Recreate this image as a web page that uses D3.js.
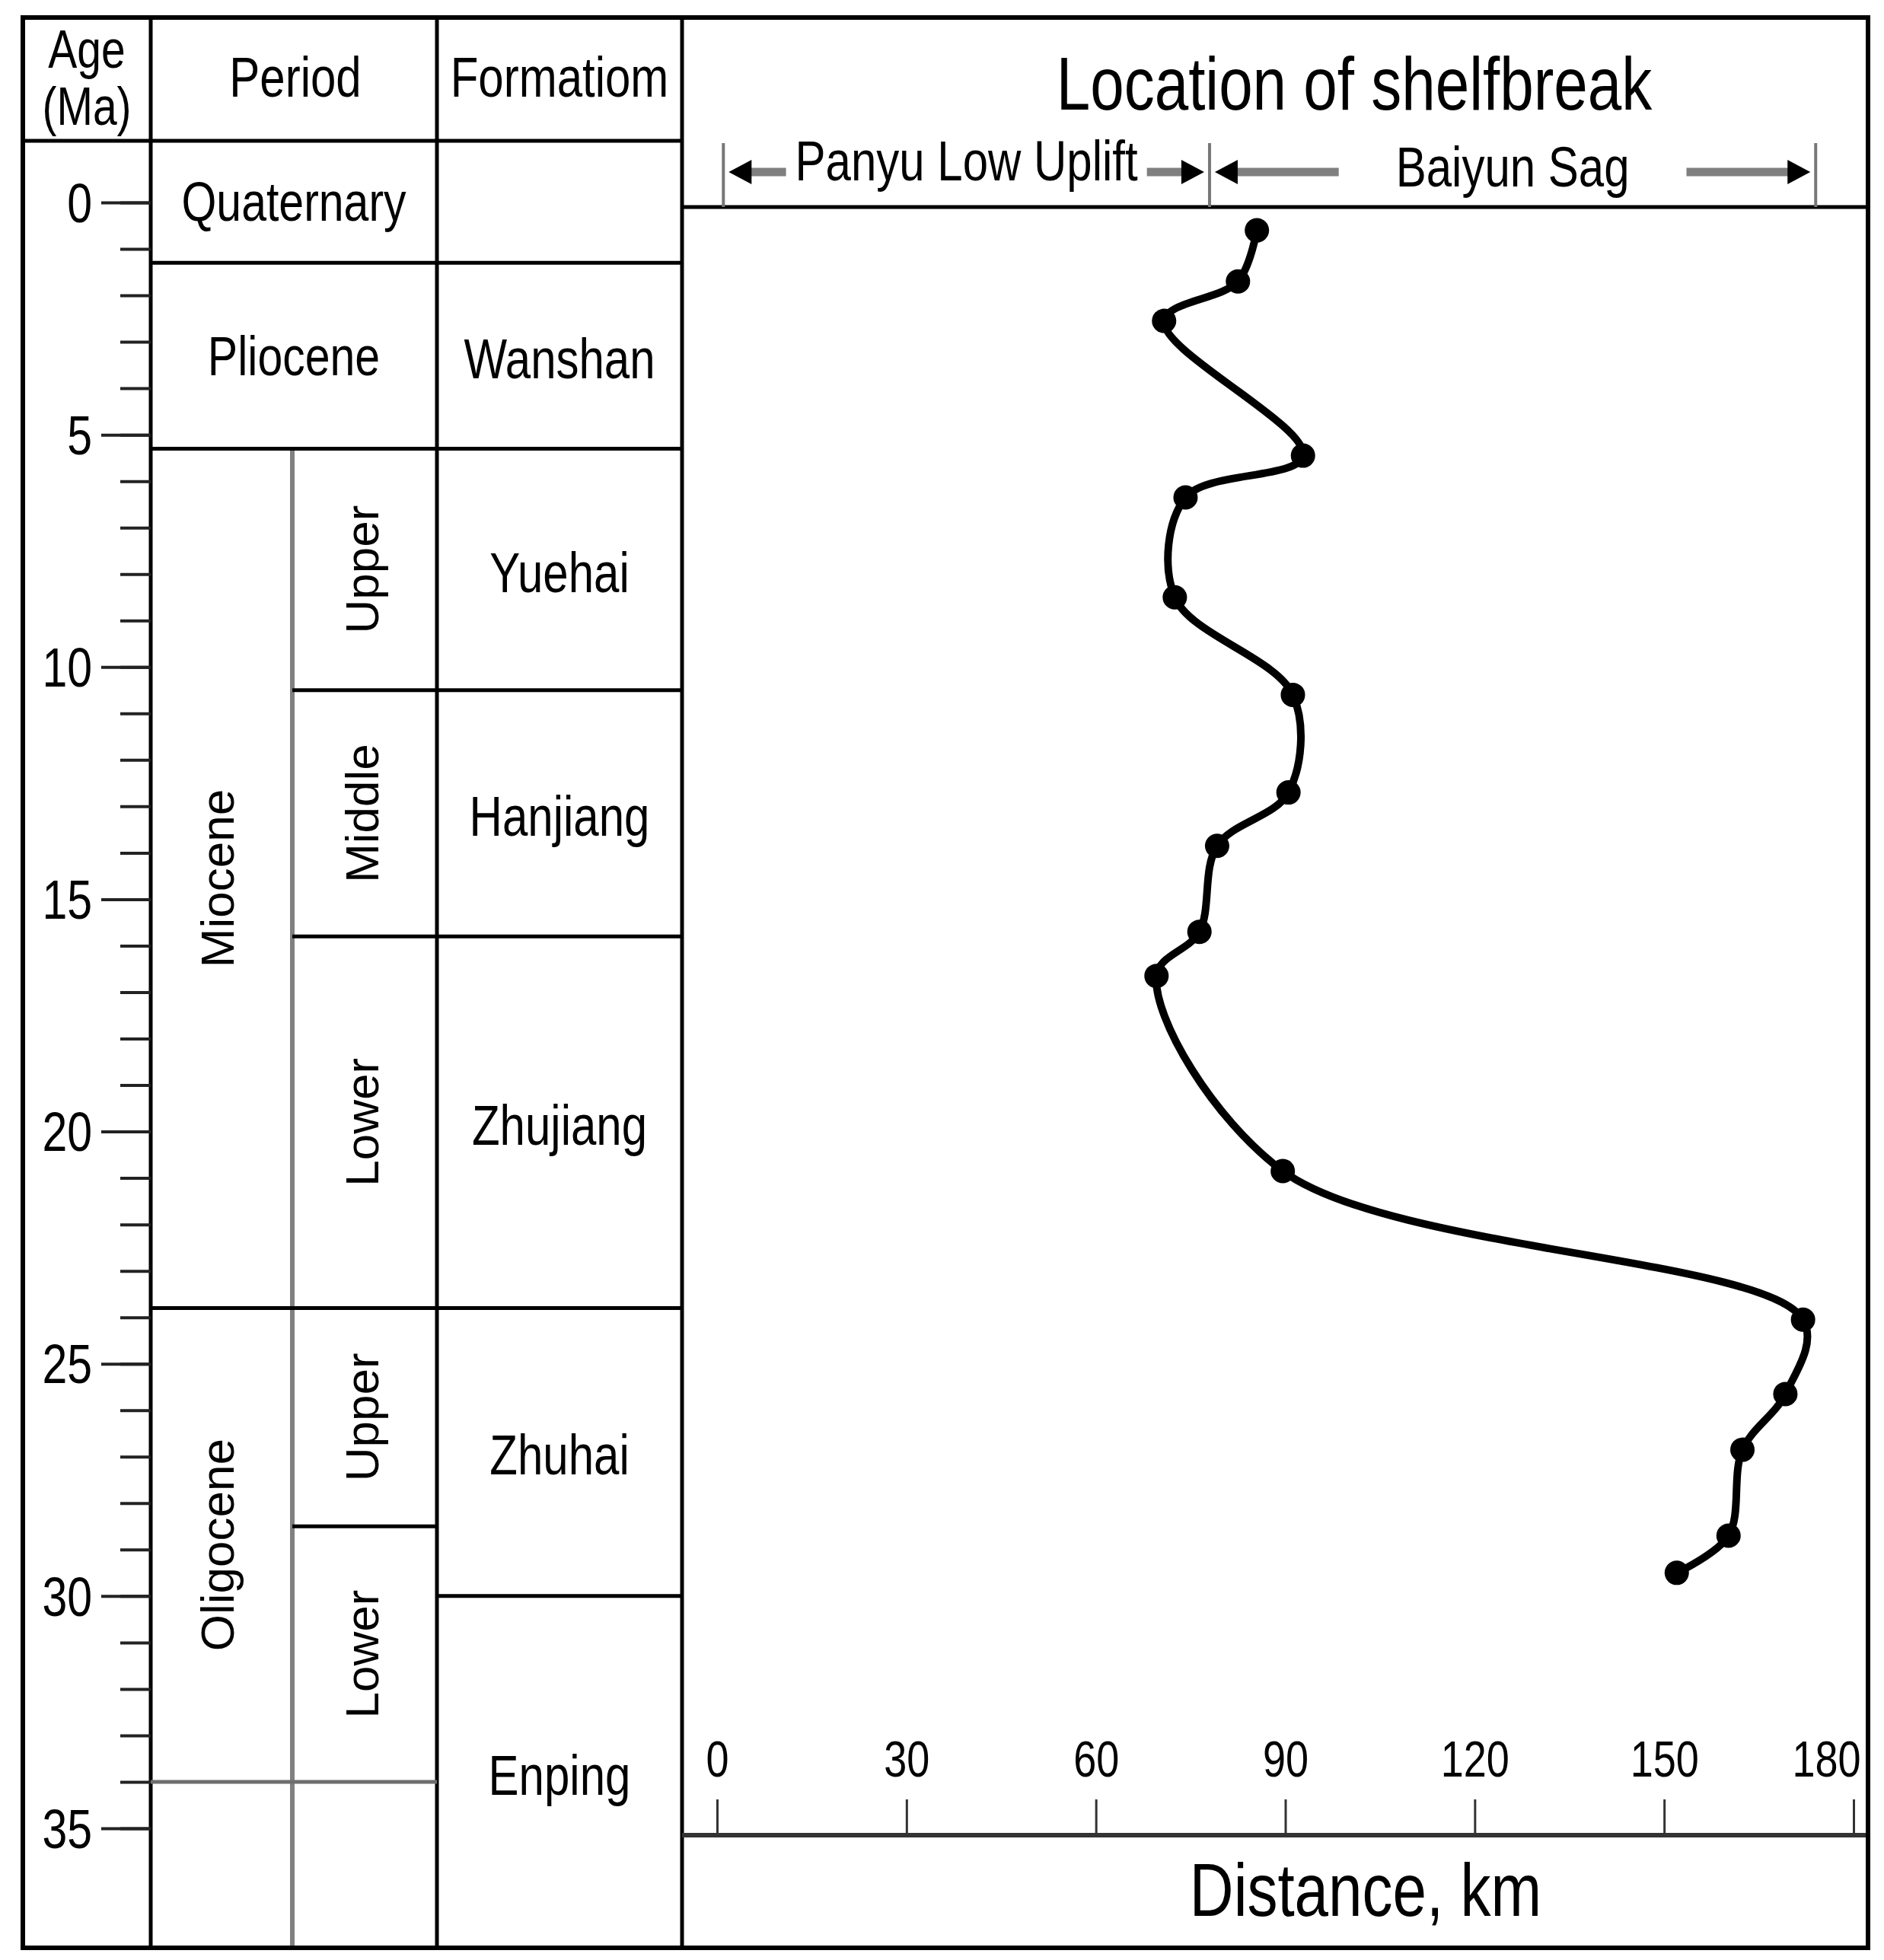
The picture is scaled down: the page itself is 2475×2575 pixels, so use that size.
<!DOCTYPE html>
<html>
<head>
<meta charset="utf-8">
<script src="https://cdn.jsdelivr.net/npm/d3@7"></script>
<style>
body { margin: 0; background: #fff; }
text { fill: #000; font-family: "Liberation Sans", Arial, sans-serif; }
</style>
</head>
<body>
<svg id="chart"></svg>
<script>
// shelfbreak location through time (age in Ma, distance in km)
var shelfAge  = [0.6, 1.7, 2.55, 5.45, 6.35, 8.5, 10.6, 12.7, 13.85, 15.7, 16.65, 20.85, 24.05, 25.65, 26.85, 28.7, 29.5];
var shelfDist = [85.5, 82.5, 70.8, 92.8, 74.2, 72.5, 91.2, 90.5, 79.2, 76.4, 69.6, 89.6, 172.0, 169.2, 162.4, 160.2, 152.0];

// stratigraphic column (null = open end of the table)
var epochs     = ['Quaternary', 'Pliocene', 'Miocene', 'Oligocene', ''];
var epochTop   = [null, 1.3, 5.3, 23.8, 34.0];
var epochBase  = [1.3, 5.3, 23.8, 34.0, null];
var series     = ['Upper', 'Middle', 'Lower', 'Upper', 'Lower', ''];
var seriesTop  = [5.3, 10.5, 15.8, 23.8, 28.5, 34.0];
var seriesBase = [10.5, 15.8, 23.8, 28.5, 34.0, null];
var formations    = ['', 'Wanshan', 'Yuehai', 'Hanjiang', 'Zhujiang', 'Zhuhai', 'Enping'];
var formationTop  = [null, 1.3, 5.3, 10.5, 15.8, 23.8, 30.0];
var formationBase = [1.3, 5.3, 10.5, 15.8, 23.8, 30.0, null];

var ageTicks   = d3.range(0, 36);
var ageLabels  = [0, 5, 10, 15, 20, 25, 30, 35];
var distTicks  = [0, 30, 60, 90, 120, 150, 180];

var regions     = ['Panyu Low Uplift', 'Baiyun Sag'];
var regionEdges = [1, 78, 174];

// layout
var W = 2475, H = 2575;
var frameL = 30, frameT = 23, frameR = 2454, frameB = 2559;
var colAge = 198, colSub = 384, colForm = 574, colChart = 896;
var headY = 185, chartHeadY = 272, axisY = 2411;
var SY = 1.22; // vertical stretch of the horizontal lettering

var svg = d3.select('#chart').attr('width', W).attr('height', H);

var y = d3.scaleLinear().domain([0, 35]).range([266, 2402]);
var x = d3.scaleLinear().domain([0, 180]).range([942, 2435]);

function yy(v, fallback) { return v === null ? fallback : y(v); }

function label(txt, px, py, size, anchor) {
    return svg.append('text')
        .attr('transform', `translate(${px},${py}) scale(1,${SY})`)
        .attr('text-anchor', anchor || 'middle')
        .attr('dominant-baseline', 'central')
        .style('font-size', size + 'px')
        .text(txt);
}

function vlabel(txt, px, py) {
    svg.append('text')
        .attr('transform', `translate(${px},${py}) rotate(-90)`)
        .attr('text-anchor', 'middle')
        .attr('dominant-baseline', 'central')
        .style('font-size', '62px')
        .text(txt);
}

function hline(x1, x2, py, color, w) {
    svg.append('line').attr('x1', x1).attr('x2', x2).attr('y1', py).attr('y2', py)
        .attr('stroke', color || '#000').attr('stroke-width', w || 5);
}

function vline(px, y1, y2, color, w) {
    svg.append('line').attr('x1', px).attr('x2', px).attr('y1', y1).attr('y2', y2)
        .attr('stroke', color || '#000').attr('stroke-width', w || 5);
}

// ---- table frame ----
vline(colSub, y(5.3), frameB, '#808080', 6);
hline(frameL, colChart, headY);
hline(colChart, frameR, chartHeadY);
vline(colAge, frameT, frameB);
vline(colForm, frameT, frameB);
vline(colChart, frameT, frameB);

// header texts
label('Age', 114, 64, 57);
label('(Ma)', 114, 139, 57);
label('Period', 388, 101, 60);
label('Formatiom', 735, 101, 60);

// epochs
epochs.forEach(function(name, i) {
    var t = yy(epochTop[i], headY), b = yy(epochBase[i], frameB);
    var split = seriesTop.indexOf(epochTop[i]) >= 0;
    if (epochBase[i] !== null)
        hline(colAge, colForm, b, i === epochs.length - 2 ? '#6e6e6e' : '#000');
    if (!name) return;
    if (split) vlabel(name, 285, (t + b) / 2);
    else label(name, (colAge + colForm) / 2, (t + b) / 2, 59);
});

// series (upper / middle / lower)
series.forEach(function(name, i) {
    var t = y(seriesTop[i]), b = yy(seriesBase[i], frameB);
    if (seriesBase[i] !== null && epochBase.indexOf(seriesBase[i]) < 0) hline(colSub, colForm, b);
    if (name) vlabel(name, (colSub + colForm) / 2 - 4, (t + b) / 2);
});

// formations
formations.forEach(function(name, i) {
    var t = yy(formationTop[i], headY), b = yy(formationBase[i], frameB);
    if (formationBase[i] !== null) hline(colForm, colChart, b);
    if (name) label(name, (colForm + colChart) / 2, (t + b) / 2 + 4, 60);
});

// ---- age axis ----
var minorAxis = svg.append('g')
    .attr('transform', `translate(${colAge},0)`)
    .call(d3.axisLeft(y).tickValues(ageTicks).tickSize(40).tickFormat(''));
var majorAxis = svg.append('g')
    .attr('transform', `translate(${colAge},0)`)
    .call(d3.axisLeft(y).tickValues(ageLabels).tickSize(65).tickPadding(12));
[minorAxis, majorAxis].forEach(function(g) {
    g.select('.domain').remove();
    g.selectAll('.tick line').attr('stroke', '#222').attr('stroke-width', 4);
});
majorAxis.selectAll('.tick text')
    .attr('dy', null)
    .attr('dominant-baseline', 'central')
    .attr('transform', `scale(1,${SY})`)
    .style('font-size', '59px')
    .style('font-family', '"Liberation Sans", Arial, sans-serif')
    .attr('fill', '#000');

// ---- distance axis ----
var distAxis = svg.append('g')
    .attr('transform', `translate(0,${axisY})`)
    .call(d3.axisTop(x).tickValues(distTicks).tickSize(47).tickFormat(d3.format('d')));
distAxis.select('.domain').remove();
distAxis.selectAll('.tick line').attr('stroke', '#333').attr('stroke-width', 3);
distAxis.selectAll('.tick text')
    .attr('y', -100 / SY)
    .attr('dy', null)
    .attr('dominant-baseline', 'central')
    .attr('transform', `scale(1,${SY})`)
    .style('font-size', '54px')
    .style('font-family', '"Liberation Sans", Arial, sans-serif')
    .attr('fill', '#000');
// last label sits against the frame
distAxis.selectAll('.tick text').filter(function(d) { return d === 180; })
    .attr('text-anchor', 'end').attr('x', frameR - 10 - x(180));
hline(colChart, frameR, axisY, '#333', 6);

label('Distance, km', 1794, 2483, 80);

// ---- chart header ----
label('Location of shelfbreak', 1779, 110, 80);

var gaps = [12, 75];
var arrowY = 226;
svg.selectAll('.edge').data(regionEdges).join('line')
    .attr('class', 'edge')
    .attr('x1', d => x(d)).attr('x2', d => x(d))
    .attr('y1', 188).attr('y2', chartHeadY)
    .attr('stroke', '#777').attr('stroke-width', 4);

function arrowHead(tip, dir) {
    svg.append('path')
        .attr('d', `M${tip},${arrowY} L${tip + dir * 30},${arrowY - 16} L${tip + dir * 30},${arrowY + 16} Z`)
        .attr('fill', '#000');
}

regions.forEach(function(name, i) {
    var xl = x(regionEdges[i]), xr = x(regionEdges[i + 1]);
    var c = (xl + xr) / 2;
    var t = label(name, c, 211 + i * 8, 60);
    var half = t.node().getComputedTextLength() / 2;
    hline(xl + 20, c - half - gaps[i], arrowY, '#7f7f7f', 11);
    hline(c + half + gaps[i], xr - 20, arrowY, '#7f7f7f', 11);
    arrowHead(xl + 7, 1);
    arrowHead(xr - 7, -1);
});

// ---- shelfbreak trajectory ----
var pts = shelfAge.map((a, i) => ({age: a, dist: shelfDist[i]}));
var line = d3.line()
    .x(d => x(d.dist))
    .y(d => y(d.age))
    .curve(d3.curveCatmullRom.alpha(0.5));

svg.append('path')
    .datum(pts)
    .attr('d', line)
    .attr('fill', 'none')
    .attr('stroke', '#000')
    .attr('stroke-width', 10)
    .attr('stroke-linejoin', 'round');

svg.selectAll('.pt').data(pts).join('circle')
    .attr('class', 'pt')
    .attr('cx', d => x(d.dist))
    .attr('cy', d => y(d.age))
    .attr('r', 16)
    .attr('fill', '#000');

// outer frame
svg.append('rect')
    .attr('x', frameL).attr('y', frameT)
    .attr('width', frameR - frameL).attr('height', frameB - frameT)
    .attr('fill', 'none').attr('stroke', '#000').attr('stroke-width', 6);
</script>
</body>
</html>
